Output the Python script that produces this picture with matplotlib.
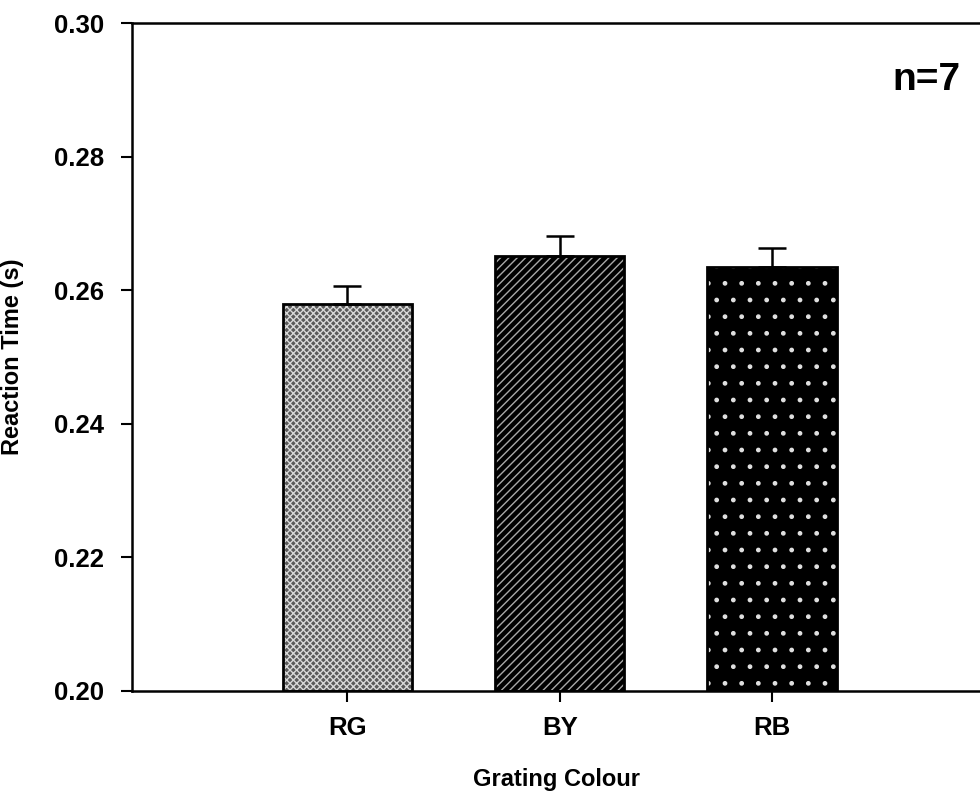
import numpy as np
import matplotlib.pyplot as plt

plt.rcParams['font.family'] = ['Liberation Sans', 'DejaVu Sans']
plt.rcParams['font.weight'] = 'bold'
plt.rcParams['hatch.linewidth'] = 1.0

# data
colours = ["RG", "BY", "RB"]
rt_mean = [0.2580, 0.2651, 0.2634]
rt_err = [0.0027, 0.0030, 0.0029]

x = np.arange(1, len(colours) + 1)

fig = plt.figure(figsize=(9.8, 7.99), dpi=100)
ax = fig.add_axes([0.1347, 0.1352, 0.8653, 0.836])

# fills with light hatching, then black outlines
fills = ["#5a5a5a", "#000000", "#000000"]
hatches = ["xxxxx", "////", "."]
hcols = ["#d8d8d8", "#a8a8a8", "#e0e0e0"]
for xi, m, fc, h, hc in zip(x, rt_mean, fills, hatches, hcols):
    ax.bar(xi, m - 0.2, bottom=0.2, width=0.61, color=fc, hatch=h,
           edgecolor=hc, linewidth=0, zorder=2)
ax.bar(x, np.array(rt_mean) - 0.2, bottom=0.2, width=0.61, fill=False,
       edgecolor="black", linewidth=2, zorder=3)

ax.errorbar(x, rt_mean, yerr=[np.zeros(3), rt_err], fmt="none",
            ecolor="black", elinewidth=1.8, capsize=10, capthick=1.8, zorder=4)

ax.set_xlim(-0.015, 3.98)
ax.set_ylim(0.20, 0.30)
ax.set_yticks([0.20, 0.22, 0.24, 0.26, 0.28, 0.30])
ax.set_yticklabels(["0.20", "0.22", "0.24", "0.26", "0.28", "0.30"])
ax.set_xticks(x)
ax.set_xticklabels(colours)
ax.tick_params(axis="both", direction="out", length=8, width=1.5,
               labelsize=18.5, pad=10)
ax.tick_params(axis="y", pad=12)

for s in ["left", "top", "bottom"]:
    ax.spines[s].set_linewidth(1.8)
ax.spines["right"].set_visible(False)

ax.set_xlabel("Grating Colour", fontsize=17, fontweight="bold", labelpad=20)
ax.set_ylabel("Reaction Time (s)", fontsize=17, fontweight="bold", labelpad=22)

ax.text(3.73, 0.2915, "n=7", fontsize=28, fontweight="bold",
        ha="center", va="center")

fig.savefig("out.png", dpi=100)
